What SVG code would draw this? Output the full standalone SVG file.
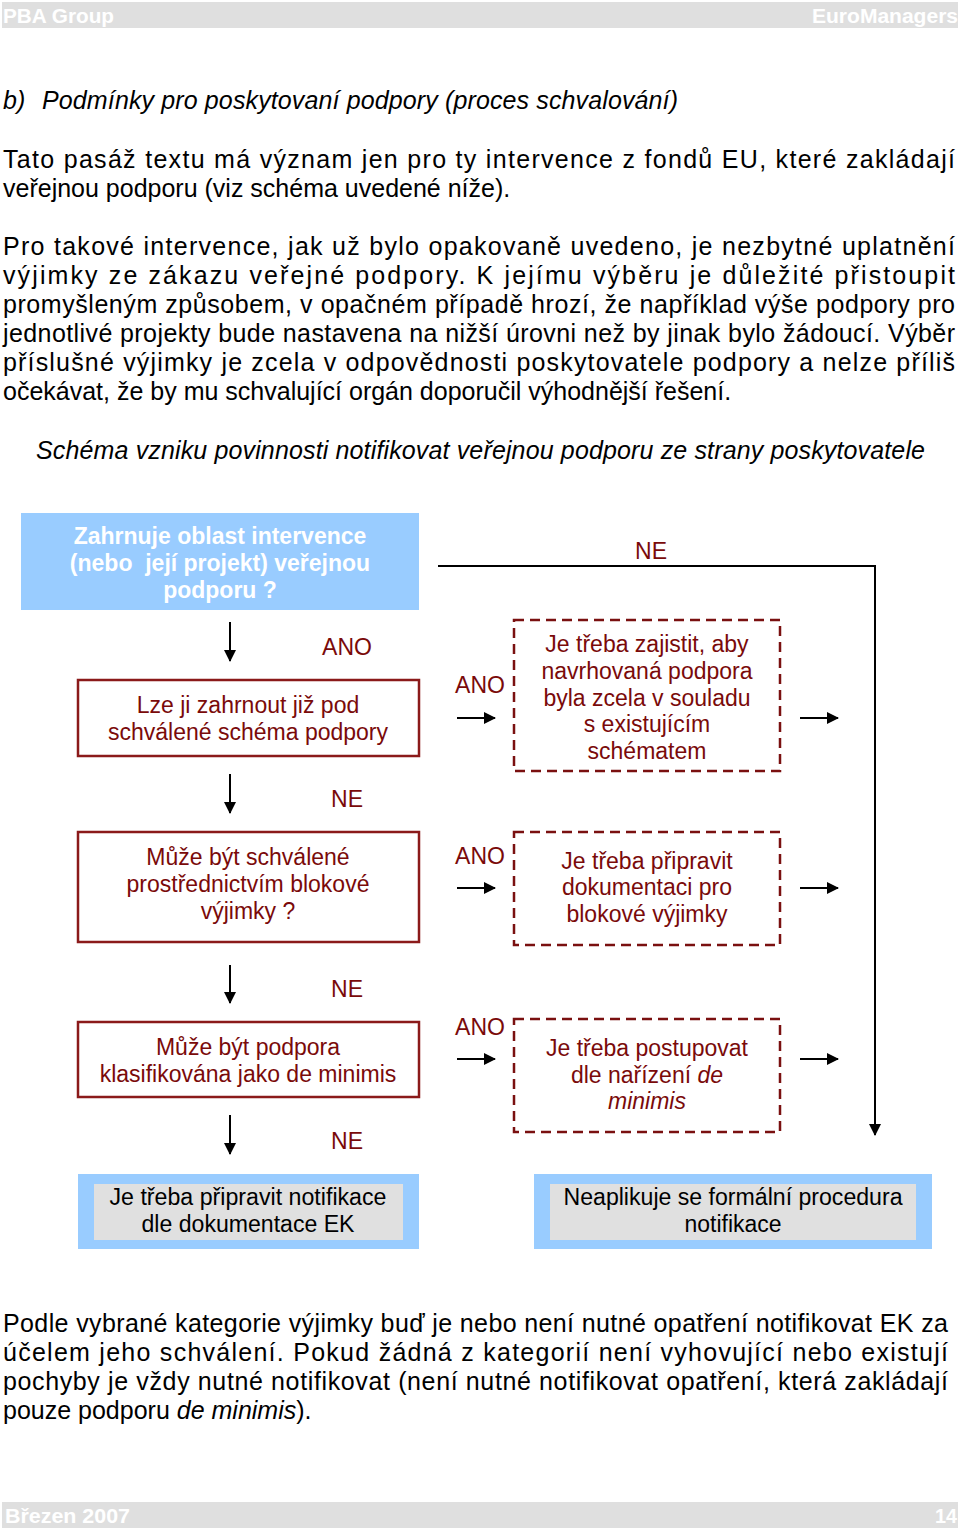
<svg xmlns="http://www.w3.org/2000/svg" width="960" height="1531" viewBox="0 0 960 1531">
<style>
.body{font-family:"Liberation Sans",Arial,sans-serif;font-size:25px;fill:#000}
.it{font-style:italic}
.hdr{font-family:"Liberation Sans",Arial,sans-serif;font-size:21px;font-weight:bold;fill:#fff}
.dr{font-family:"Liberation Sans",Arial,sans-serif;font-size:23px;fill:#7a0a0a;text-anchor:middle}
.lbl{font-family:"Liberation Sans",Arial,sans-serif;font-size:23px;fill:#7a0a0a;text-anchor:middle}
.wb{font-family:"Liberation Sans",Arial,sans-serif;font-size:23px;font-weight:bold;fill:#fff;text-anchor:middle}
.bk{font-family:"Liberation Sans",Arial,sans-serif;font-size:23px;fill:#000;text-anchor:middle}
.solid{fill:#fff;stroke:#8b1a1a;stroke-width:2.5}
.dash{fill:none;stroke:#7a1010;stroke-width:2.5;stroke-dasharray:10,6}
.conn{stroke:#000;stroke-width:2;fill:none}
</style>
<defs>
<marker id="ah2" markerWidth="12" markerHeight="12" refX="11" refY="6" orient="auto" markerUnits="userSpaceOnUse">
<path d="M0,0 L12,6 L0,12 Z" fill="#000"/>
</marker>
</defs>
<rect width="960" height="1531" fill="#fff"/>
<g id="header">
<rect x="2" y="2" width="956" height="26" fill="#dfdfdf"/>
<text class="hdr" x="3" y="23" textLength="111" lengthAdjust="spacingAndGlyphs">PBA Group</text>
<text class="hdr" x="812" y="23" textLength="146" lengthAdjust="spacingAndGlyphs">EuroManagers</text>
</g>
<g id="text-top">
<text class="body it" x="3" y="109">b)</text>
<text class="body it" x="42" y="109" textLength="636" lengthAdjust="spacing">Podmínky pro poskytovaní podpory (proces schvalování)</text>
<text class="body" x="3" y="168" textLength="952" lengthAdjust="spacing">Tato pasáž textu má význam jen pro ty intervence z fondů EU, které zakládají</text>
<text class="body" x="3" y="197">veřejnou podporu (viz schéma uvedené níže).</text>
<text class="body" x="3" y="255" textLength="952" lengthAdjust="spacing">Pro takové intervence, jak už bylo opakovaně uvedeno, je nezbytné uplatnění</text>
<text class="body" x="3" y="284" textLength="952" lengthAdjust="spacing">výjimky ze zákazu veřejné podpory. K jejímu výběru je důležité přistoupit</text>
<text class="body" x="3" y="313" textLength="952" lengthAdjust="spacing">promyšleným způsobem, v opačném případě hrozí, že například výše podpory pro</text>
<text class="body" x="3" y="342" textLength="952" lengthAdjust="spacing">jednotlivé projekty bude nastavena na nižší úrovni než by jinak bylo žádoucí. Výběr</text>
<text class="body" x="3" y="371" textLength="952" lengthAdjust="spacing">příslušné výjimky je zcela v odpovědnosti poskytovatele podpory a nelze příliš</text>
<text class="body" x="3" y="400">očekávat, že by mu schvalující orgán doporučil výhodnější řešení.</text>
<text class="body it" x="36" y="459" textLength="889" lengthAdjust="spacing">Schéma vzniku povinnosti notifikovat veřejnou podporu ze strany poskytovatele</text>
</g>
<g id="connectors">
<polyline class="conn" points="438,566 875,566 875,1135" marker-end="url(#ah2)"/>
<line class="conn" x1="230" y1="622" x2="230" y2="661" marker-end="url(#ah2)"/>
<line class="conn" x1="230" y1="774" x2="230" y2="813" marker-end="url(#ah2)"/>
<line class="conn" x1="230" y1="965" x2="230" y2="1003" marker-end="url(#ah2)"/>
<line class="conn" x1="230" y1="1115" x2="230" y2="1154" marker-end="url(#ah2)"/>
<line class="conn" x1="457" y1="718" x2="495" y2="718" marker-end="url(#ah2)"/>
<line class="conn" x1="457" y1="888" x2="495" y2="888" marker-end="url(#ah2)"/>
<line class="conn" x1="457" y1="1059" x2="495" y2="1059" marker-end="url(#ah2)"/>
<line class="conn" x1="800" y1="718" x2="838" y2="718" marker-end="url(#ah2)"/>
<line class="conn" x1="800" y1="888" x2="838" y2="888" marker-end="url(#ah2)"/>
<line class="conn" x1="800" y1="1059" x2="838" y2="1059" marker-end="url(#ah2)"/>
<text class="lbl" x="651" y="559">NE</text>
<text class="lbl" x="347" y="655">ANO</text>
<text class="lbl" x="347" y="807">NE</text>
<text class="lbl" x="347" y="997">NE</text>
<text class="lbl" x="347" y="1149">NE</text>
<text class="lbl" x="480" y="693">ANO</text>
<text class="lbl" x="480" y="864">ANO</text>
<text class="lbl" x="480" y="1035">ANO</text>
</g>
<g id="n-start">
<rect x="21" y="513" width="398" height="97" fill="#99ccff"/>
<text class="wb" x="220" y="544">Zahrnuje oblast intervence</text>
<text class="wb" x="220" y="571" xml:space="preserve">(nebo  její projekt) veřejnou</text>
<text class="wb" x="220" y="598">podporu ?</text>
</g>
<g id="n-schema">
<rect class="solid" x="78" y="680" width="341" height="76"/>
<text class="dr" x="248" y="713">Lze ji zahrnout již pod</text>
<text class="dr" x="248" y="740">schválené schéma podpory</text>
</g>
<g id="n-block">
<rect class="solid" x="78" y="832" width="341" height="110"/>
<text class="dr" x="248" y="865">Může být schválené</text>
<text class="dr" x="248" y="892">prostřednictvím blokové</text>
<text class="dr" x="248" y="919">výjimky ?</text>
</g>
<g id="n-deminimis">
<rect class="solid" x="78" y="1022" width="341" height="75"/>
<text class="dr" x="248" y="1055">Může být podpora</text>
<text class="dr" x="248" y="1082">klasifikována jako de minimis</text>
</g>
<g id="n-ensure">
<rect class="dash" x="514" y="620" width="266" height="151"/>
<text class="dr" x="647" y="652">Je třeba zajistit, aby</text>
<text class="dr" x="647" y="679">navrhovaná podpora</text>
<text class="dr" x="647" y="706">byla zcela v souladu</text>
<text class="dr" x="647" y="732">s existujícím</text>
<text class="dr" x="647" y="759">schématem</text>
</g>
<g id="n-prepare">
<rect class="dash" x="514" y="832" width="266" height="113"/>
<text class="dr" x="647" y="869">Je třeba připravit</text>
<text class="dr" x="647" y="895">dokumentaci pro</text>
<text class="dr" x="647" y="922">blokové výjimky</text>
</g>
<g id="n-follow">
<rect class="dash" x="514" y="1019" width="266" height="113"/>
<text class="dr" x="647" y="1056">Je třeba postupovat</text>
<text class="dr" x="647" y="1083">dle nařízení <tspan font-style="italic">de</tspan></text>
<text class="dr" x="647" y="1109" font-style="italic">minimis</text>
</g>
<g id="n-notify">
<rect x="78" y="1174" width="341" height="75" fill="#99ccff"/>
<rect x="94" y="1184" width="309" height="56" fill="#e0e0e0"/>
<text class="bk" x="248" y="1205" textLength="277" lengthAdjust="spacingAndGlyphs">Je třeba připravit notifikace</text>
<text class="bk" x="248" y="1232" textLength="213" lengthAdjust="spacingAndGlyphs">dle dokumentace EK</text>
</g>
<g id="n-none">
<rect x="534" y="1174" width="398" height="75" fill="#99ccff"/>
<rect x="550" y="1184" width="366" height="56" fill="#e0e0e0"/>
<text class="bk" x="733" y="1205" textLength="339" lengthAdjust="spacingAndGlyphs">Neaplikuje se formální procedura</text>
<text class="bk" x="733" y="1232" textLength="97" lengthAdjust="spacingAndGlyphs">notifikace</text>
</g>
<g id="text-bottom">
<text class="body" x="3" y="1332" textLength="945" lengthAdjust="spacing">Podle vybrané kategorie výjimky buď je nebo není nutné opatření notifikovat EK za</text>
<text class="body" x="3" y="1361" textLength="945" lengthAdjust="spacing">účelem jeho schválení. Pokud žádná z kategorií není vyhovující nebo existují</text>
<text class="body" x="3" y="1390" textLength="945" lengthAdjust="spacing">pochyby je vždy nutné notifikovat (není nutné notifikovat opatření, která zakládají</text>
<text class="body" x="3" y="1419">pouze podporu <tspan font-style="italic">de minimis</tspan>).</text>
</g>
<g id="footer">
<rect x="2" y="1502" width="956" height="26" fill="#dfdfdf"/>
<text class="hdr" x="5" y="1523" textLength="125" lengthAdjust="spacingAndGlyphs">Březen 2007</text>
<text class="hdr" x="935" y="1523" textLength="22" lengthAdjust="spacingAndGlyphs">14</text>
</g>
</svg>
